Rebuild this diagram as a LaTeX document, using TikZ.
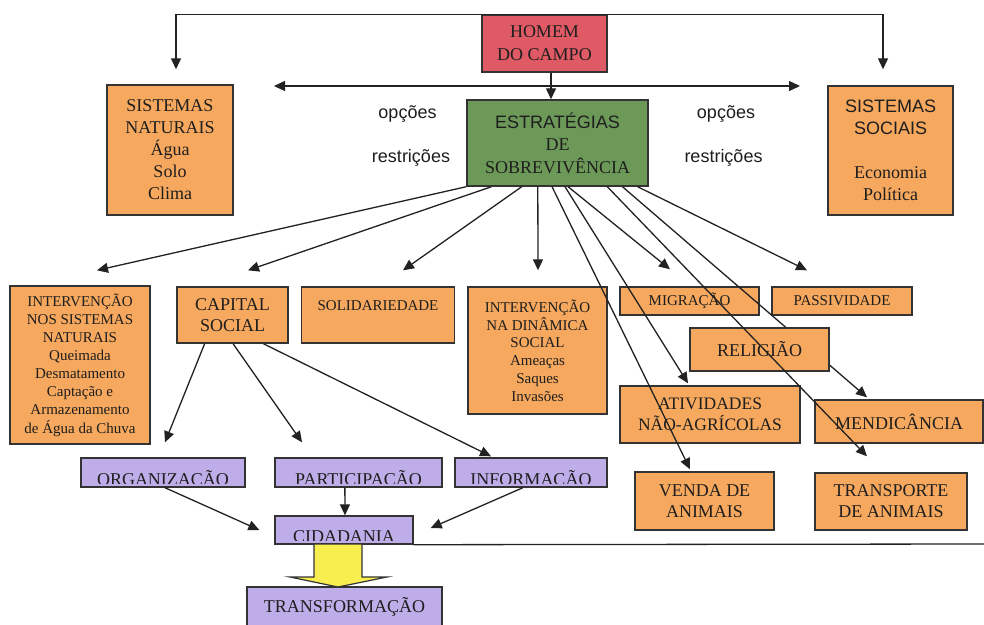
\documentclass[tikz,border=0pt]{standalone}
\usepackage{fontspec}
\setmainfont{Liberation Serif}
\newfontfamily\arialf{Liberation Sans}
\usetikzlibrary{arrows.meta,calc}
\definecolor{orangec}{HTML}{F6A85E}
\definecolor{redc}{HTML}{E05A66}
\definecolor{greenc}{HTML}{6C9858}
\definecolor{purplec}{HTML}{BEADE8}
\definecolor{yellowc}{HTML}{F8EE50}
\definecolor{bordc}{HTML}{333333}
\definecolor{linec}{HTML}{222222}
\definecolor{txtc}{HTML}{1E1E1E}
\tikzset{
  box/.style={draw=bordc, line width=1.4pt, inner sep=0pt, align=center, text=txtc},
  obox/.style={box, fill=orangec},
  pbox/.style={box, fill=purplec},
  arr/.style={draw=linec, line width=1.3pt, -{Triangle[length=11pt,width=10pt]}},
  plain/.style={draw=linec, line width=1.3pt},
  big/.style={font=\fontsize{18}{22}\selectfont},
  mid/.style={font=\fontsize{15}{18}\selectfont},
  lbl/.style={font=\arialf\fontsize{18}{22}\selectfont, text=txtc, inner sep=0pt},
  ptxt/.style={font=\fontsize{18}{22}\selectfont, text=txtc, inner sep=0pt, anchor=base},
}
\begin{document}
\begin{tikzpicture}[x=1pt,y=-1pt]
\useasboundingbox (0,0) rectangle (984,624);
\fill[white] (0,0) rectangle (984,624);

% top level
\node[box, fill=redc, minimum width=125pt, minimum height=57pt, font=\fontsize{18}{23}\selectfont] (homem) at (544.5,43.5) {HOMEM\\DO CAMPO};
\node[box, fill=greenc, minimum width=181pt, minimum height=86pt, font=\fontsize{18}{22.5}\selectfont] (estr) at (557.5,143) {{\arialf ESTRATÉGIAS}\\DE\\SOBREVIVÊNCIA};
\node[obox, big, minimum width=126pt, minimum height=130pt] (nat) at (170,150) {SISTEMAS\\NATURAIS\\Água\\Solo\\Clima};
\node[obox, big, minimum width=125pt, minimum height=129pt] (soc) at (890.5,150.5) {{\arialf SISTEMAS}\\{\arialf SOCIAIS}\\[22pt]Economia\\Política};

\node[lbl, anchor=base] (op1) at (407.5,118) {opções};
\node[lbl, anchor=base] (re1) at (411,162) {restrições};
\node[lbl, anchor=base] (op2) at (726,118) {opções};
\node[lbl, anchor=base] (re2) at (723.5,162) {restrições};

% second level
\node[obox, font=\fontsize{15}{18.1}\selectfont, minimum width=140pt, minimum height=158pt] (intnat) at (80,365) {INTERVENÇÃO\\NOS SISTEMAS\\NATURAIS\\Queimada\\Desmatamento\\Captação e\\Armazenamento\\de Água da Chuva};
\node[obox, font=\fontsize{18}{21}\selectfont, minimum width=111pt, minimum height=56pt] (cap) at (232.5,315) {CAPITAL\\SOCIAL};
\node[obox, mid, minimum width=153pt, text height=23pt, text depth=33pt] (solid) at (378,315) {SOLIDARIEDADE};
\node[obox, font=\fontsize{15}{17.8}\selectfont, minimum width=139pt, minimum height=127pt] (intdin) at (537.5,350.5) {INTERVENÇÃO\\NA DINÂMICA\\SOCIAL\\Ameaças\\Saques\\Invasões};
\node[obox, mid, minimum width=139pt, minimum height=28pt] (migr) at (689.5,301) {MIGRAÇÃO};
\node[obox, mid, minimum width=140pt, minimum height=28pt] (pass) at (842,301) {PASSIVIDADE};
\node[obox, font=\fontsize{17.5}{21.5}\selectfont, minimum width=180pt, minimum height=57pt] (ativ) at (710,414.5) {ATIVIDADES\\NÃO-AGRÍCOLAS};
\node[obox, big, minimum width=168pt, minimum height=43pt] (mend) at (899,421.5) {MENDICÂNCIA};
\node[obox, font=\fontsize{18}{21}\selectfont, minimum width=139pt, minimum height=58pt] (venda) at (704.5,501) {VENDA DE\\ANIMAIS};
\node[obox, font=\fontsize{18}{21}\selectfont, minimum width=152pt, minimum height=57pt] (transp) at (891,501.5) {TRANSPORTE\\DE ANIMAIS};

% purple boxes
\node[pbox, minimum width=164pt, minimum height=29pt] (org) at (163,472.5) {};
\node[pbox, minimum width=167pt, minimum height=29pt] (part) at (358.5,472.5) {};
\node[pbox, minimum width=152pt, minimum height=29pt] (info) at (531,472.5) {};
\node[pbox, minimum width=138pt, minimum height=28pt] (cid) at (344,530) {};
\node[pbox, big, minimum width=195pt, minimum height=40pt] (transf) at (344.5,607) {TRANSFORMAÇÃO};

\begin{scope}
\clip ($(org.south west)+(0,-4.5)$) rectangle (org.north east);
\node[ptxt] (orgt) at ($(org.south)+(0,-2.5)$) {ORGANIZAÇÃO};
\end{scope}
\begin{scope}
\clip ($(part.south west)+(0,-4.5)$) rectangle (part.north east);
\node[ptxt] (partt) at ($(part.south)+(0,-2.5)$) {PARTICIPAÇÃO};
\end{scope}
\begin{scope}
\clip ($(info.south west)+(0,-4.5)$) rectangle (info.north east);
\node[ptxt] (infot) at ($(info.south)+(0,-2.5)$) {INFORMAÇÃO};
\end{scope}
\begin{scope}
\clip ($(cid.south west)+(0,-4.5)$) rectangle (cid.north east);
\node[ptxt] (cidt) at ($(cid.south)+(0,-2.5)$) {CIDADANIA};
\end{scope}

% connector hidden behind RELIGIÃO
\draw[arr] ($(estr.south west)!0.856!(estr.south east)$) -- ($(mend.north)+(-32,-2)$);
\node[obox, big, minimum width=139pt, minimum height=43pt] (relig) at (759.5,349.5) {RELIGIÃO};

% top connectors
\draw[arr] (homem.north) -| ($(nat.north)+(6,-15)$);
\draw[arr] (homem.north) -| ($(soc.north)+(-7.5,-16)$);
\coordinate (dblL) at (274,86);
\coordinate (dblR) at (800,86);
\draw[draw=linec, line width=1.3pt, {Triangle[length=11pt,width=10pt]}-{Triangle[length=11pt,width=10pt]}] (dblL) -- (dblR);
\draw[arr] ($(homem.south)+(6.5,0)$) -- ($(estr.north)+(-6.5,0)$);

% strategy connectors
\draw[arr] (estr.south west) -- ($(intnat.north)+(17,-15)$);
\draw[arr] ($(estr.south west)!0.138!(estr.south east)$) -- ($(cap.north)+(15.5,-16)$);
\draw[arr] ($(estr.south west)!0.304!(estr.south east)$) -- ($(solid.north)+(25,-16)$);
\draw[arr] ($(estr.south west)!0.392!(estr.south east)$) -- ($(intdin.north)+(0.5,-16)$);
\draw[arr] ($(estr.south west)!0.470!(estr.south east)$) -- ($(venda.north)+(-14.5,-2)$);
\draw[arr] ($(estr.south west)!0.541!(estr.south east)$) -- ($(ativ.north)+(-22,-2)$);
\draw[arr] ($(estr.south west)!0.558!(estr.south east)$) -- ($(migr.north)+(-19.5,-17)$);
\draw[arr] ($(estr.south west)!0.773!(estr.south east)$) -- ($(transp.north)+(-24,-16)$);
\draw[arr] ($(estr.south west)!0.939!(estr.south east)$) -- ($(pass.north)+(-35,-16)$);

% capital social connectors
\draw[arr] ($(cap.south west)!0.252!(cap.south east)$) -- ($(org.north)+(2,-15)$);
\draw[arr] ($(cap.south west)!0.505!(cap.south east)$) -- ($(part.north)+(-56.5,-15)$);
\draw[arr] ($(cap.south west)!0.775!(cap.south east)$) -- ($(info.north)+(-40,-1)$);

% to cidadania
\draw[arr] ($(org.south west)!0.512!(org.south east)$) -- ($(cid.west)+(-15,0)$);
\draw[arr] ($(part.south west)!0.419!(part.south east)$) -- ($(cid.north west)!0.507!(cid.north east)$);
\draw[arr] ($(info.south west)!0.447!(info.south east)$) -- ($(cid.east)+(17,-2)$);

% bottom line
\coordinate (lineend) at (984,544);
\draw[plain] (cid.south east) -- (lineend);

% yellow block arrow
\draw[fill=yellowc, draw=bordc, line width=1.2pt, line join=miter]
  (314,544) -- (362,544) -- (362,577) -- (387,577) -- (338,587) -- (290,577) -- (314,577) -- cycle;
\end{tikzpicture}
\end{document}
